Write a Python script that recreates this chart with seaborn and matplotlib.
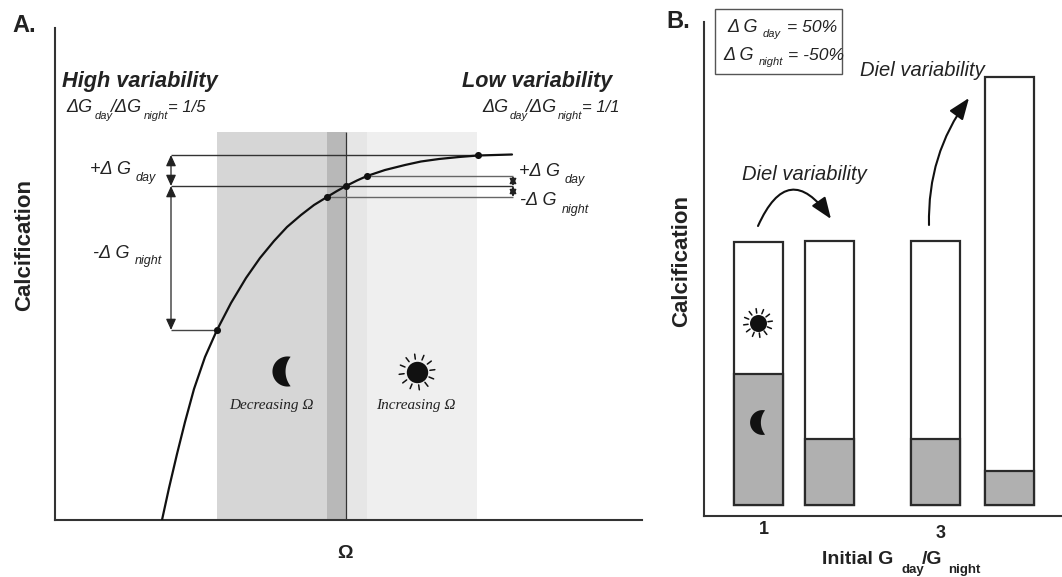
import numpy as np
import matplotlib
matplotlib.use("Agg")
import matplotlib.pyplot as plt
import seaborn as sns
from matplotlib.path import Path

W, H = 1062, 577

# panel A, curve
omega = [107, 114, 122, 130, 139, 150, 162, 176, 191, 205, 219, 232, 246, 259, 272, 282, 291,
         302, 312, 330, 350, 366, 384, 404, 423, 440, 457]
calc = [0, 32, 66, 98, 131, 163, 190, 217, 242, 262, 279, 293, 305, 315, 323, 329, 334,
        339.5, 344, 350, 355, 358.5, 361, 363, 364.5, 365, 365.5]
dots_x = [162, 272, 291, 312, 423]
dots_y = [190, 323, 334, 344, 365]

# panel B
bar_x = [54.5, 125.5, 231.5, 305.5]
bar_total = [263, 264, 264, 428]
bar_night = [131, 66, 66, 34]

sns.set_style("white")
plt.rcParams['font.family'] = ['Liberation Sans', 'DejaVu Sans']
INK = '#222222'

fig = plt.figure(figsize=(W / 100, H / 100), dpi=100)


def add_axes(left, top, right, bottom):
    ax = fig.add_axes([left / W, 1 - bottom / H, (right - left) / W, (bottom - top) / H])
    ax.set_xlim(0, right - left)
    ax.patch.set_alpha(0)
    sns.despine(ax=ax)
    for s in ['left', 'bottom']:
        ax.spines[s].set_linewidth(1.5)
        ax.spines[s].set_color('#333333')
    ax.set_xticks([])
    ax.set_yticks([])
    return ax


def label(x, y, s, size=12, style='italic', weight='normal', ha='left', **kw):
    # x, y are picture positions, y counted from the top
    fig.text(x / W, 1 - y / H, s, fontsize=size, style=style, weight=weight,
             ha=ha, va='center', color=INK, **kw)


def moon_path():
    t = np.radians(np.linspace(78, 282, 40))
    outer = np.c_[np.cos(t), np.sin(t)]
    tip_x, tip_y = outer[0]
    left = -0.13
    cx = (tip_x**2 + tip_y**2 - left**2) / (2 * (tip_x - left))
    r = cx - left
    a = np.arctan2(tip_y, tip_x - cx)
    u = np.linspace(2 * np.pi - a, a, 40)
    inner = np.c_[cx + r * np.cos(u), r * np.sin(u)]
    return Path(np.r_[outer, inner, outer[:1]], closed=True)


def sun(ax, x, y, r, ray_in, ray_out):
    ax.scatter([x], [y], s=(2 * r * 0.72)**2, color='#111111', linewidths=0, zorder=5)
    for a in np.arange(12) * np.pi / 6 + 0.13:
        ax.plot([x + ray_in * np.cos(a), x + ray_out * np.cos(a)],
                [y + ray_in * np.sin(a), y + ray_out * np.sin(a)],
                color='#111111', lw=1.1, zorder=5)


def dbl_arrow(ax, x, y0, y1, head=0.3):
    ax.annotate('', xy=(x, y1), xytext=(x, y0),
                arrowprops=dict(arrowstyle=f'<|-|>,head_length={head * 2.2},head_width={head}',
                                color='#222222', lw=0.9, shrinkA=0, shrinkB=0))


# ---- panel A
ax1 = add_axes(55, 28, 642, 520)
ax1.set_ylim(0, 492)
for x0, x1, c in [(162, 272, '#d6d6d6'), (272, 291, '#b8b8b8'),
                  (291, 312, '#e6e6e6'), (312, 422, '#efefef')]:
    ax1.axvspan(x0, x1, ymax=388 / 492, color=c, lw=0, zorder=0)
ax1.vlines(291, 0, 388, color='#333333', lw=0.9, zorder=2)

ax1.hlines(365, 116, 423, color='#333333', lw=1, zorder=2)
ax1.hlines(334, 116, 458, color='#333333', lw=1, zorder=2)
ax1.hlines(190, 116, 162, color='#444444', lw=1, zorder=2)
ax1.hlines(344, 312, 458, color='#666666', lw=1, zorder=2)
ax1.hlines(323, 272, 458, color='#666666', lw=1, zorder=2)
dbl_arrow(ax1, 116, 365, 334)
dbl_arrow(ax1, 116, 334, 190)
dbl_arrow(ax1, 458, 344, 334, head=0.2)
dbl_arrow(ax1, 458, 334, 323, head=0.2)

sns.lineplot(x=omega, y=calc, color='#111111', lw=1.6, ax=ax1, sort=False, estimator=None, zorder=3)
sns.scatterplot(x=dots_x, y=dots_y, color='#111111', s=26, linewidth=0, ax=ax1, zorder=4)

ax1.scatter([232], [149], marker=moon_path(), s=470, color='#111111', linewidths=0, zorder=5)
sun(ax1, 362, 148, 10.7, 13, 18)
ax1.set_xlabel('')

# ---- panel B
ax2 = add_axes(704, 22, 1062, 516)
ax2.set_ylim(-11, 483)
sns.barplot(x=bar_x, y=bar_total, native_scale=True, width=0.69, color='white', saturation=1,
            edgecolor='#2a2a2a', linewidth=1.6, ax=ax2)
sns.barplot(x=bar_x, y=bar_night, native_scale=True, width=0.69, color='#b0b0b0', saturation=1,
            edgecolor='#2a2a2a', linewidth=1.6, ax=ax2)
ax2.set_xlim(0, 358)
ax2.set_ylim(-11, 483)
ax2.set_xticks([])
ax2.set_yticks([])

sun(ax2, 54, 182, 8.5, 10, 14.5)
ax2.scatter([58], [83], marker=moon_path(), s=320, color='#111111', linewidths=0, zorder=5)

arrow_kw = dict(color='#111111', lw=1.5, shrinkA=0, shrinkB=0)
ax2.annotate('', xy=(127, 286), xytext=(54, 279),
             arrowprops=dict(arrowstyle='-|>,head_length=1.3,head_width=0.5',
                             connectionstyle='arc3,rad=-0.88', **arrow_kw))
ax2.annotate('', xy=(265, 407), xytext=(225, 280),
             arrowprops=dict(arrowstyle='-|>,head_length=1.3,head_width=0.5',
                             connectionstyle='arc3,rad=-0.17', **arrow_kw))

# legend box in panel B
fig.add_artist(plt.Rectangle((715 / W, 1 - 74 / H), 127 / W, 65 / H, transform=fig.transFigure,
                             fill=False, ec='#555555', lw=1))

# ---- text
label(12, 25, 'A.', size=17, style='normal', weight='bold')
label(666, 22, 'B.', size=17, style='normal', weight='bold')

label(62, 82, 'High variability', size=15.7, weight='bold')
label(462, 82, 'Low variability', size=15.6, weight='bold')

for x0, x_day, x_slash, x_night, x_eq, end in [(66, 95, 110, 144, 168, '1/5'),
                                               (482, 510, 525, 558, 582, '1/1')]:
    label(x0, 108, '\u0394G', size=13)
    label(x_day, 116, 'day', size=8)
    label(x_slash, 108, '/\u0394G', size=13)
    label(x_night, 116, 'night', size=8)
    label(x_eq, 108, '= ' + end, size=12)

label(90, 169, '+\u0394 G', size=13)
label(136, 178, 'day', size=9)
label(93, 253, '-\u0394 G', size=13)
label(135, 261, 'night', size=9)
label(519, 172, '+\u0394 G', size=13)
label(565, 180, 'day', size=9)
label(520, 201, '-\u0394 G', size=13)
label(562, 210, 'night', size=9)

fig.text(25 / W, 1 - 245 / H, 'Calcification', fontsize=16, weight='bold', rotation=90,
         ha='center', va='center', color=INK)
fig.text(682 / W, 1 - 261 / H, 'Calcification', fontsize=16, weight='bold', rotation=90,
         ha='center', va='center', color=INK)
label(345, 553, '\u03a9', size=14, style='normal', weight='bold', ha='center')

label(229, 405, 'Decreasing \u03a9', size=11, family=['Liberation Serif', 'DejaVu Serif'])
label(376, 405, 'Increasing \u03a9', size=11, family=['Liberation Serif', 'DejaVu Serif'])

label(727, 27, '\u0394 G', size=13)
label(763, 34, 'day', size=8)
label(787, 27, '= 50%', size=12.6)
label(723, 55, '\u0394 G', size=13)
label(759, 62, 'night', size=8)
label(788, 55, '= -50%', size=12.6)

label(860, 71, 'Diel variability', size=14.5)
label(742, 175, 'Diel variability', size=14.5)

label(764, 530, '1', size=13, style='normal', weight='bold', ha='center')
label(941, 533, '3', size=13, style='normal', weight='bold', ha='center')
label(822, 560, 'Initial G', size=14, style='normal', weight='bold')
label(902, 570, 'day', size=9.5, style='normal', weight='bold')
label(922, 560, '/G', size=14, style='normal', weight='bold')
label(948, 570, 'night', size=9.5, style='normal', weight='bold')

fig.savefig('out.png', dpi=100)
